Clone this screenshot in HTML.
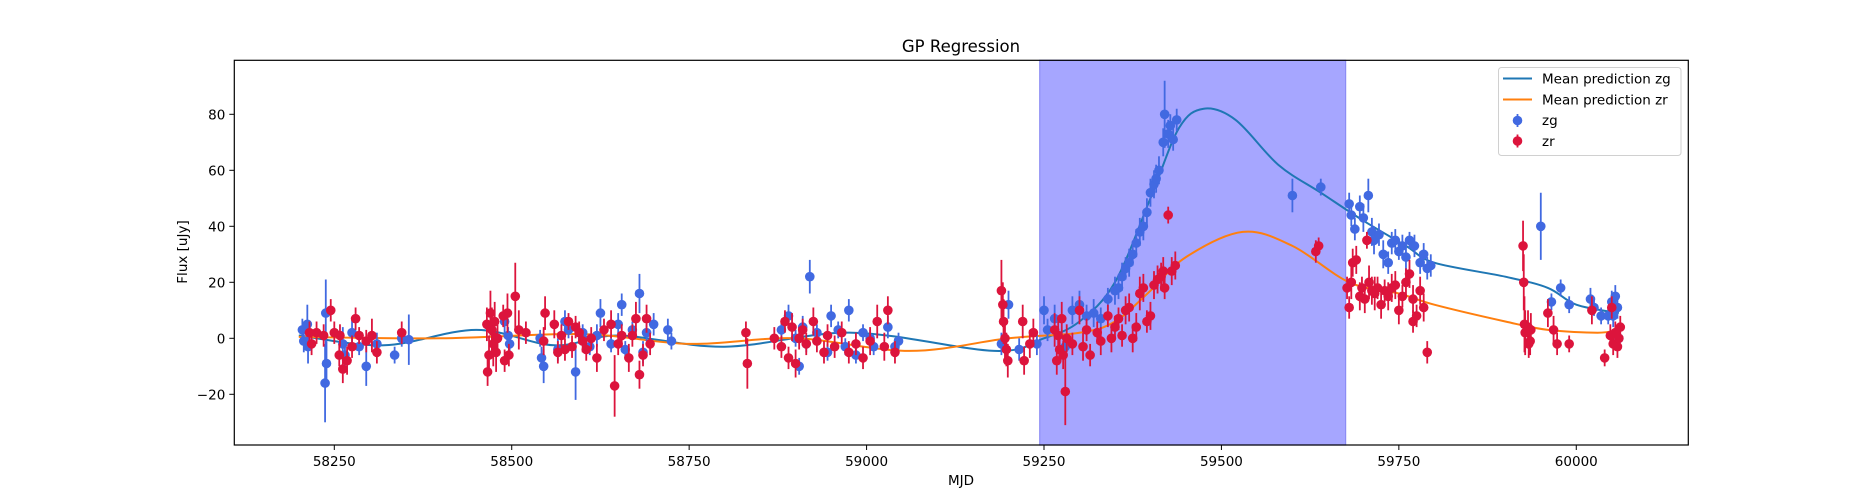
<!DOCTYPE html>
<html><head><meta charset="utf-8"><style>
html,body{margin:0;padding:0;background:#fff;}
svg{display:block;font-family:"DejaVu Sans","Liberation Sans",sans-serif;}
</style></head><body>
<svg id="chart" width="1875" height="500" viewBox="0 0 1875 500" xmlns="http://www.w3.org/2000/svg">
<rect x="0" y="0" width="1875" height="500" fill="#fff"/>
<g id="plot"></g>
<text x="961" y="52" text-anchor="middle" font-size="16.5" fill="#000">GP Regression</text>
<text x="961" y="485" text-anchor="middle" font-size="13.5" fill="#000">MJD</text>
<text x="0" y="0" transform="translate(187,252) rotate(-90)" text-anchor="middle" font-size="13.5" fill="#000">Flux [uJy]</text>
<g>
<rect x="1498.5" y="67.5" width="182.5" height="88" rx="3" fill="#fff" fill-opacity="0.8" stroke="#d0d0d0"/>
<line x1="1503" y1="78.5" x2="1532" y2="78.5" stroke="#1f77b4" stroke-width="2"/>
<text x="1542" y="83.5" font-size="13.5">Mean prediction zg</text>
<line x1="1503" y1="99.5" x2="1532" y2="99.5" stroke="#ff7f0e" stroke-width="2"/>
<text x="1542" y="104.5" font-size="13.5">Mean prediction zr</text>
<line x1="1517.5" y1="114" x2="1517.5" y2="127" stroke="#4169E1" stroke-width="1.8"/>
<circle cx="1517.5" cy="120.5" r="4.8" fill="#4169E1"/>
<text x="1542" y="125" font-size="13.5">zg</text>
<line x1="1517.5" y1="134.5" x2="1517.5" y2="147.5" stroke="#DC143C" stroke-width="1.8"/>
<circle cx="1517.5" cy="141" r="4.8" fill="#DC143C"/>
<text x="1542" y="146" font-size="13.5">zr</text>
</g>
</svg>
<script>
const xTicks=[58250,58500,58750,59000,59250,59500,59750,60000];
const yTicks=[-20,0,20,40,60,80];
const spanRange=[59244,59675];
const zgCurveX=[58200,58320,58450,58560,58650,58800,58980,59180,59250,59300,59350,59400,59440,59475,59520,59580,59640,59700,59760,59800,59900,59960,60000,60060];
const zgCurveY=[1,-2.5,3,-2.5,1,-3,2,-4.5,0,6,20,50,75,82,78,62,52,42,33,27,22,18,12,9];
const zrCurveX=[58200,58400,58600,58750,58900,59060,59200,59300,59350,59400,59450,59530,59600,59680,59750,59800,59900,59960,60030,60060];
const zrCurveY=[0.5,0,1.5,-2,0,-4.5,0,2,6,17,29,38,33,20,16,12,6,3,2,3];
const zgPoints=[[58205,3,4],[58207,-1,4],[58212,5,7],[58213,-3,6],[58238,9,12],[58239,-9,8],[58237,-16,14],[58262,-2,6],[58265,-6,5],[58275,2,5],[58285,-3,3],[58295,-10,7],[58310,-2,4],[58335,-6,3],[58345,0,3],[58355,-0.5,9],
[58490,6,4],[58495,1,3],[58497,-2,3],[58540,0,3],[58542,-7,4],[58545,-10,6],[58565,-4,4],[58575,6,4],[58580,3,3],[58590,-12,10],[58600,0,3],[58610,-3,3],[58625,9,5],[58640,-2,3],[58650,5,4],[58655,12,4],[58660,-4,3],[58670,3,3],[58680,16,7],[58685,-5,4],[58690,2,3],[58700,5,4],[58720,3,4],[58725,-1,3],[58600,2,3],[58620,1,4],
[58880,3,3],[58890,8,4],[58900,0,3],[58905,-10,3],[58910,4,4],[58915,-2,3],[58920,22,6],[58930,2,3],[58945,-5,3],[58950,8,4],[58960,3,3],[58970,-3,3],[58975,10,4],[58985,-6,3],[58995,2,3],[59005,0,3],[59010,-3,3],[59030,4,4],[59040,-3,3],[59045,-1,3],
[59190,-2,4],[59200,12,5],[59215,-4,4],[59240,-2,4],[59250,10,5],[59255,3,4],[59265,7,5],[59280,-3,4],[59290,10,5],[59300,12,5],[59310,8,4],[59320,9,5],[59330,7,4],[59340,14,4],[59350,17,5],[59355,18,4],[59360,22,5],[59365,25,4],[59370,27,5],[59375,30,4],[59380,34,5],[59385,38,5],[59390,40,5],[59395,45,5],[59400,52,5],[59405,55,5],[59408,57,5],[59412,60,5],[59418,70,5],[59420,80,12],[59425,73,5],[59428,76,4],[59432,71,4],[59437,78,4],
[59600,51,6],[59640,54,3],
[59680,48,4],[59683,44,4],[59688,39,4],[59695,47,4],[59700,43,5],[59707,51,6],[59712,38,5],[59715,35,5],[59722,37,4],[59728,30,5],[59735,27,4],[59740,34,4],[59745,35,4],[59750,31,3],[59755,33,4],[59760,29,5],[59765,35,3],[59772,33,4],[59780,27,4],[59785,30,4],[59790,25,4],[59795,26,4],
[59950,40,12],[59965,13,3],[59978,18,3],[59990,12,3],[60020,14,4],[60025,11,3],[60035,8,3],[60045,8,3],[60050,13,4],[60055,15,4],[60058,11,4],[60060,0,4],[60052,8,4]];
const zrPoints=[[58215,2,4],[58218,-2,4],[58225,2,4],[58235,1,4],[58245,10,4],[58250,2,4],[58257,-6,4],[58258,1,4],[58262,-11,5],[58268,-8,5],[58275,-3,4],[58280,7,4],[58285,1,3],[58295,-1,4],[58303,1,6],[58310,-5,4],[58345,2,4],
[58465,5,6],[58466,-12,5],[58468,-6,7],[58470,9,8],[58472,3,8],[58474,-2,8],[58476,6,7],[58478,-5,7],[58480,0,6],[58488,8,4],[58490,-8,4],[58494,9,7],[58496,-6,4],[58505,15,12],[58510,3,7],[58520,2,4],[58545,-1,5],[58547,9,6],[58560,5,5],[58565,-5,4],[58570,1,4],[58575,-4,4],[58580,6,3],[58585,-3,4],[58590,4,4],[58595,2,4],[58600,-1,4],[58605,-4,4],[58612,0,4],[58620,-7,5],[58630,3,4],[58640,5,5],[58645,-17,11],[58650,-2,4],[58655,1,4],[58665,-7,5],[58670,1,4],[58675,7,6],[58680,-13,5],[58685,-6,4],[58690,7,5],[58695,-2,4],
[58830,2,4],[58832,-9,9],[58870,0,4],[58880,-3,4],[58885,6,4],[58890,-7,4],[58895,4,5],[58900,-9,5],[58905,0,4],[58910,3,4],[58915,-2,4],[58925,6,5],[58930,-1,4],[58940,-5,4],[58945,1,4],[58955,-3,4],[58965,2,4],[58975,-5,4],[58985,-2,4],[58995,-7,4],[59005,-1,5],[59015,6,6],[59025,-3,5],[59030,10,5],[59040,-5,4],
[59190,17,11],[59192,12,8],[59193,6,8],[59195,0,7],[59197,-4,6],[59199,-8,6],[59220,6,6],[59222,-8,5],[59230,-2,5],[59235,2,5],[59265,3,6],[59268,-8,5],[59270,1,5],[59272,-4,5],[59275,7,6],[59277,-6,5],[59280,-19,12],[59282,0,5],[59290,-2,4],[59300,10,5],[59305,-3,5],[59310,3,4],[59315,-6,4],[59325,2,4],[59330,-1,5],[59340,8,4],[59345,0,5],[59350,4,4],[59355,7,4],[59360,1,4],[59365,10,5],[59370,11,5],[59375,0,5],[59380,4,5],[59385,16,6],[59390,18,5],[59395,6,4],[59400,8,5],[59405,19,5],[59410,21,5],[59415,22,5],[59418,24,5],[59420,18,4],[59425,44,3],[59430,24,5],[59435,26,5],
[59633,31,4],[59637,33,3],
[59677,18,4],[59680,11,4],[59683,20,6],[59685,27,5],[59690,28,5],[59695,15,5],[59698,18,4],[59702,14,5],[59705,35,3],[59708,20,6],[59712,17,5],[59716,16,6],[59720,18,4],[59725,12,5],[59730,17,4],[59735,15,5],[59740,18,5],[59745,19,5],[59750,10,5],[59755,15,4],[59760,20,5],[59765,23,5],[59770,14,5],[59775,8,4],[59780,17,5],[59785,11,5],[59790,-5,4],[59770,6,4],
[59925,33,9],[59926,20,10],[59927,5,10],[59928,2,8],[59932,4,6],[59933,-2,5],[59935,-1,5],[59936,3,6],[59960,9,5],[59968,3,5],[59973,-2,4],[59990,-2,3],[60022,10,5],[60040,-7,3],[60048,1,4],[60050,11,4],[60052,-2,4],[60055,2,4],[60058,-3,4],[60062,4,4],[60060,0,4]];

const L=234.3,R=1688.3,T=60.3,B=445;
const X0=58250,XP0=334.3,XS=0.7097;
const YP0=338.3,YS=2.8;
function sx(v){return XP0+(v-X0)*XS;}
function sy(v){return YP0-v*YS;}
const NS='http://www.w3.org/2000/svg';
const g=document.getElementById('plot');
function mk(tag,attrs,parent){const e=document.createElementNS(NS,tag);for(const k in attrs)e.setAttribute(k,attrs[k]);(parent||g).appendChild(e);return e;}

const clip=mk('clipPath',{id:'clipA'});mk('rect',{x:L,y:T,width:R-L,height:B-T},clip);

const span=mk('rect',{x:sx(spanRange[0]),y:T,width:sx(spanRange[1])-sx(spanRange[0]),height:B-T,fill:'#a6a6ff',stroke:'#8c8cf5',"stroke-width":1.2});



function curvePath(xs,ys){
  const p=xs.map((x,i)=>[sx(x),sy(ys[i])]);
  let d='M'+p[0][0]+','+p[0][1];
  for(let i=0;i<p.length-1;i++){
    const p0=p[Math.max(0,i-1)],p1=p[i],p2=p[i+1],p3=p[Math.min(p.length-1,i+2)];
    const c1=[p1[0]+(p2[0]-p0[0])/6,p1[1]+(p2[1]-p0[1])/6];
    const c2=[p2[0]-(p3[0]-p1[0])/6,p2[1]-(p3[1]-p1[1])/6];
    d+=' C'+c1[0]+','+c1[1]+' '+c2[0]+','+c2[1]+' '+p2[0]+','+p2[1];
  }
  return d;
}
const lz=mk('path',{d:curvePath(zgCurveX,zgCurveY),fill:'none',stroke:'#1f77b4','stroke-width':2,'clip-path':'url(#clipA)'});


const lr=mk('path',{d:curvePath(zrCurveX,zrCurveY),fill:'none',stroke:'#ff7f0e','stroke-width':2,'clip-path':'url(#clipA)'});



function drawPts(pts,color,name){
  const grp=mk('g',{'clip-path':'url(#clipA)'});
  
  
  pts.forEach(p=>{
    const el=mk('line',{x1:sx(p[0]),x2:sx(p[0]),y1:sy(p[1]-p[2]),y2:sy(p[1]+p[2]),stroke:color,'stroke-width':1.8},grp);
    
    
  });
  pts.forEach(p=>{
    const c=mk('circle',{cx:sx(p[0]),cy:sy(p[1]),r:4.8,fill:color},grp);
    
    
  });
}
drawPts(zgPoints,'#4169E1','zg');
drawPts(zrPoints,'#DC143C','zr');

const frame=mk('rect',{x:L,y:T,width:R-L,height:B-T,fill:'none',stroke:'#000','stroke-width':1.2});



xTicks.forEach(v=>{
  const x=sx(v);
  const t=mk('line',{x1:x,x2:x,y1:B,y2:B+5,stroke:'#000','stroke-width':1});
  
  
  const tx=mk('text',{x:x,y:B+21,'text-anchor':'middle','font-size':13.5,fill:'#000'});
  tx.textContent=String(v);
  
  
});
yTicks.forEach(v=>{
  const y=sy(v);
  const t=mk('line',{x1:L-5,x2:L,y1:y,y2:y,stroke:'#000','stroke-width':1});
  
  
  const tx=mk('text',{x:L-9,y:y+5,'text-anchor':'end','font-size':13.5,fill:'#000'});
  tx.textContent=v<0?'\u2212'+Math.abs(v):String(v);
  
  
});
</script>
</body></html>
